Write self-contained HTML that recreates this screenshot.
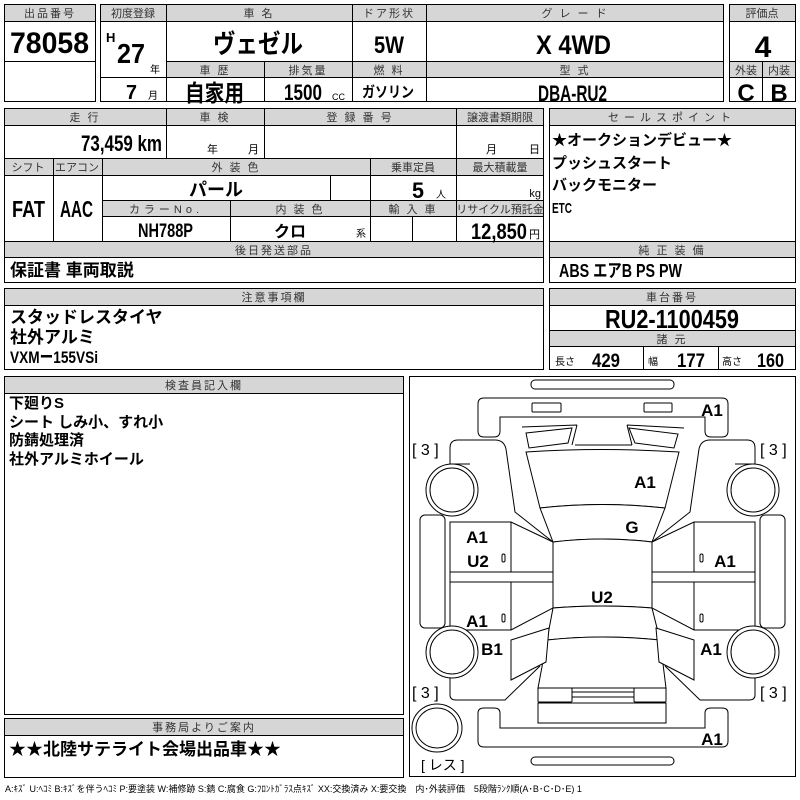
<!DOCTYPE html>
<html><head><meta charset="utf-8"><style>
html,body{margin:0;padding:0;background:#fff;}
svg{display:block;}
text{font-family:"Liberation Sans Narrow","Liberation Sans","Noto Sans CJK JP",sans-serif;fill:#000;}
.h{font-size:11px;fill:#333;text-anchor:middle;letter-spacing:2px;}
.b{font-weight:bold;}
.c{text-anchor:middle;}
.r{text-anchor:end;}
.g{fill:#d6d6d6;stroke:none;}
.ln{stroke:#000;stroke-width:1;fill:none;}
.car{stroke:#000;stroke-width:1;fill:#fff;}
.cl{font-size:17px;font-weight:bold;}
</style></head><body>
<svg width="800" height="800" viewBox="0 0 800 800" xmlns="http://www.w3.org/2000/svg">
<!-- Box A -->
<rect class="g" x="4" y="4" width="92" height="17"/>
<rect class="ln" x="4.5" y="4.5" width="91" height="97"/>
<line class="ln" x1="4" y1="21.5" x2="96" y2="21.5"/><line class="ln" x1="4" y1="61.5" x2="96" y2="61.5"/>
<text class="h" x="50" y="17">出品番号</text>
<text class="b" x="10" y="53" font-size="30" textLength="79" lengthAdjust="spacingAndGlyphs">78058</text>
<!-- Box B -->
<rect class="g" x="100" y="4" width="624" height="17"/>
<rect class="g" x="166" y="61" width="558" height="16"/>
<rect class="ln" x="100.5" y="4.5" width="623" height="97"/>
<line class="ln" x1="100" y1="21.5" x2="724" y2="21.5"/>
<line class="ln" x1="166" y1="61.5" x2="724" y2="61.5"/>
<line class="ln" x1="100" y1="77.5" x2="724" y2="77.5"/>
<line class="ln" x1="166.5" y1="4" x2="166.5" y2="102"/>
<line class="ln" x1="352.5" y1="4" x2="352.5" y2="102"/>
<line class="ln" x1="426.5" y1="4" x2="426.5" y2="102"/>
<line class="ln" x1="264.5" y1="61" x2="264.5" y2="102"/>
<text class="h" x="133" y="17" style="letter-spacing:0">初度登録</text>
<text class="h" x="259" y="17">車 名</text>
<text class="h" x="389" y="17">ドア形状</text>
<text class="h" x="575" y="17">グ レ ー ド</text>
<text class="b" x="106" y="42" font-size="13">H</text>
<text class="b" x="117" y="63" font-size="28" textLength="28" lengthAdjust="spacingAndGlyphs">27</text>
<text x="150" y="73" font-size="10">年</text>
<text class="b" x="126" y="99" font-size="20" textLength="11" lengthAdjust="spacingAndGlyphs">7</text>
<text x="148" y="99" font-size="10">月</text>
<text class="b" x="213" y="53" font-size="26" textLength="90" lengthAdjust="spacingAndGlyphs">ヴェゼル</text>
<text class="b" x="374" y="53" font-size="24" textLength="30" lengthAdjust="spacingAndGlyphs">5W</text>
<text class="b" x="536" y="54" font-size="27" textLength="75" lengthAdjust="spacingAndGlyphs">X 4WD</text>
<text class="h" x="215" y="74">車 歴</text>
<text class="h" x="308" y="74">排気量</text>
<text class="h" x="389" y="74">燃 料</text>
<text class="h" x="575" y="74">型 式</text>
<text class="b" x="185" y="101" font-size="23" textLength="59" lengthAdjust="spacingAndGlyphs">自家用</text>
<text class="b" x="284" y="100" font-size="22" textLength="38" lengthAdjust="spacingAndGlyphs">1500</text>
<text x="332" y="100" font-size="9">CC</text>
<text class="b" x="362" y="97" font-size="15" textLength="52" lengthAdjust="spacingAndGlyphs">ガソリン</text>
<text class="b" x="538" y="101" font-size="22" textLength="69" lengthAdjust="spacingAndGlyphs">DBA-RU2</text>
<!-- Box C -->
<rect class="g" x="729" y="4" width="67" height="17"/>
<rect class="g" x="729" y="61" width="67" height="16"/>
<rect class="ln" x="729.5" y="4.5" width="66" height="97"/>
<line class="ln" x1="729" y1="21.5" x2="796" y2="21.5"/>
<line class="ln" x1="729" y1="61.5" x2="796" y2="61.5"/>
<line class="ln" x1="729" y1="77.5" x2="796" y2="77.5"/>
<line class="ln" x1="762.5" y1="61" x2="762.5" y2="102"/>
<text class="h" x="762" y="17" style="letter-spacing:0">評価点</text>
<text class="b c" x="763" y="57" font-size="30">4</text>
<text class="h" x="746" y="74" style="letter-spacing:0">外装</text>
<text class="h" x="779" y="74" style="letter-spacing:0">内装</text>
<text class="b c" x="746" y="101" font-size="24">C</text>
<text class="b c" x="779" y="101" font-size="24">B</text>
<!-- Section 2 -->
<rect class="g" x="4" y="108" width="540" height="17"/>
<rect class="g" x="4" y="158" width="540" height="17"/>
<rect class="g" x="102" y="200" width="442" height="16"/>
<rect class="g" x="4" y="241" width="540" height="16"/>
<rect class="ln" x="4.5" y="108.5" width="539" height="174"/>
<line class="ln" x1="4" y1="125.5" x2="544" y2="125.5"/>
<line class="ln" x1="4" y1="158.5" x2="544" y2="158.5"/>
<line class="ln" x1="4" y1="175.5" x2="544" y2="175.5"/>
<line class="ln" x1="102" y1="200.5" x2="544" y2="200.5"/>
<line class="ln" x1="102" y1="216.5" x2="544" y2="216.5"/>
<line class="ln" x1="4" y1="241.5" x2="544" y2="241.5"/>
<line class="ln" x1="4" y1="257.5" x2="544" y2="257.5"/>
<line class="ln" x1="166.5" y1="108" x2="166.5" y2="158"/>
<line class="ln" x1="264.5" y1="108" x2="264.5" y2="158"/>
<line class="ln" x1="456.5" y1="108" x2="456.5" y2="241"/>
<line class="ln" x1="53.5" y1="158" x2="53.5" y2="241"/>
<line class="ln" x1="102.5" y1="158" x2="102.5" y2="241"/>
<line class="ln" x1="370.5" y1="158" x2="370.5" y2="241"/>
<line class="ln" x1="330.5" y1="175" x2="330.5" y2="200"/>
<line class="ln" x1="230.5" y1="200" x2="230.5" y2="241"/>
<line class="ln" x1="412.5" y1="216" x2="412.5" y2="241"/>
<text class="h" x="85" y="121">走 行</text>
<text class="h" x="215" y="121">車 検</text>
<text class="h" x="360" y="121">登 録 番 号</text>
<text class="h" x="500" y="121" style="letter-spacing:0">譲渡書類期限</text>
<text class="b" x="81" y="151" font-size="22" textLength="81" lengthAdjust="spacingAndGlyphs">73,459 km</text>
<text x="207" y="153" font-size="11">年</text><text x="248" y="153" font-size="11">月</text>
<text x="486" y="153" font-size="11">月</text><text x="529" y="153" font-size="11">日</text>
<text class="h" x="28" y="171" style="letter-spacing:0">シフト</text>
<text class="h" x="77" y="171" style="letter-spacing:0">エアコン</text>
<text class="h" x="236" y="171">外 装 色</text>
<text class="h" x="413" y="171" style="letter-spacing:0">乗車定員</text>
<text class="h" x="500" y="171" style="letter-spacing:0">最大積載量</text>
<text class="b" x="12" y="217" font-size="23" textLength="33" lengthAdjust="spacingAndGlyphs">FAT</text>
<text class="b" x="60" y="217" font-size="23" textLength="33" lengthAdjust="spacingAndGlyphs">AAC</text>
<text class="b c" x="216" y="196" font-size="18">パール</text>
<text class="b" x="412" y="198" font-size="22" textLength="12" lengthAdjust="spacingAndGlyphs">5</text>
<text x="436" y="198" font-size="10">人</text>
<text class="r" x="541" y="197" font-size="11">kg</text>
<text class="h" x="166" y="213" style="letter-spacing:4px">カラーNo.</text>
<text class="h" x="300" y="213">内 装 色</text>
<text class="h" x="413" y="213">輸 入 車</text>
<text class="h" x="500" y="213" style="letter-spacing:0">リサイクル預託金</text>
<text class="b" x="138" y="237" font-size="19" textLength="55" lengthAdjust="spacingAndGlyphs">NH788P</text>
<text class="b c" x="290" y="237" font-size="16">クロ</text>
<text x="356" y="237" font-size="10">系</text>
<text class="b" x="471" y="239" font-size="22" textLength="56" lengthAdjust="spacingAndGlyphs">12,850</text>
<text x="529" y="238" font-size="11">円</text>
<text class="h" x="274" y="254">後日発送部品</text>
<text class="b" x="10" y="276" font-size="17">保証書 車両取説</text>
<!-- Sale points -->
<rect class="g" x="549" y="108" width="247" height="17"/>
<rect class="g" x="549" y="241" width="247" height="16"/>
<rect class="ln" x="549.5" y="108.5" width="246" height="174"/>
<line class="ln" x1="549" y1="125.5" x2="796" y2="125.5"/>
<line class="ln" x1="549" y1="241.5" x2="796" y2="241.5"/>
<line class="ln" x1="549" y1="257.5" x2="796" y2="257.5"/>
<text class="h" x="672" y="121" style="letter-spacing:5px">セールスポイント</text>
<text class="b" x="552" y="145" font-size="15">★オークションデビュー★</text>
<text class="b" x="552" y="168" font-size="15">プッシュスタート</text>
<text class="b" x="552" y="190" font-size="15">バックモニター</text>
<text class="b" x="552" y="213" font-size="15" textLength="20" lengthAdjust="spacingAndGlyphs">ETC</text>
<text class="b" x="559" y="277" font-size="18" textLength="123" lengthAdjust="spacingAndGlyphs">ABS エアB PS PW</text>
<text class="h" x="672" y="254">純 正 装 備</text>
<!-- Section 3 -->
<rect class="g" x="4" y="288" width="540" height="17"/>
<rect class="ln" x="4.5" y="288.5" width="539" height="81"/>
<line class="ln" x1="4" y1="305.5" x2="544" y2="305.5"/>
<text class="h" x="274" y="301">注意事項欄</text>
<text class="b" x="10" y="323" font-size="17">スタッドレスタイヤ</text>
<text class="b" x="10" y="343" font-size="17">社外アルミ</text>
<text class="b" x="10" y="363" font-size="17" textLength="88" lengthAdjust="spacingAndGlyphs">VXMー155VSi</text>
<rect class="g" x="549" y="288" width="247" height="17"/>
<rect class="g" x="549" y="330" width="247" height="16"/>
<rect class="ln" x="549.5" y="288.5" width="246" height="81"/>
<line class="ln" x1="549" y1="305.5" x2="796" y2="305.5"/>
<line class="ln" x1="549" y1="330.5" x2="796" y2="330.5"/>
<line class="ln" x1="549" y1="346.5" x2="796" y2="346.5"/>
<line class="ln" x1="643.5" y1="346" x2="643.5" y2="370"/>
<line class="ln" x1="718.5" y1="346" x2="718.5" y2="370"/>
<text class="h" x="672" y="301">車台番号</text>
<text class="b" x="605" y="328" font-size="26" textLength="134" lengthAdjust="spacingAndGlyphs">RU2-1100459</text>
<text class="h" x="672" y="343">諸 元</text>
<text x="555" y="365" font-size="10">長さ</text><text class="b" x="592" y="367" font-size="19" textLength="28" lengthAdjust="spacingAndGlyphs">429</text>
<text x="648" y="365" font-size="10">幅</text><text class="b" x="677" y="367" font-size="19" textLength="28" lengthAdjust="spacingAndGlyphs">177</text>
<text x="722" y="365" font-size="10">高さ</text><text class="b" x="757" y="367" font-size="19" textLength="27" lengthAdjust="spacingAndGlyphs">160</text>
<!-- Section 4 -->
<rect class="g" x="4" y="376" width="400" height="17"/>
<rect class="ln" x="4.5" y="376.5" width="399" height="338"/>
<line class="ln" x1="4" y1="393.5" x2="404" y2="393.5"/>
<text class="h" x="204" y="389">検査員記入欄</text>
<text class="b" x="9" y="408" font-size="15">下廻りS</text>
<text class="b" x="9" y="427" font-size="15">シート しみ小、すれ小</text>
<text class="b" x="9" y="445" font-size="15">防錆処理済</text>
<text class="b" x="9" y="464" font-size="15">社外アルミホイール</text>
<rect class="g" x="4" y="718" width="400" height="17"/>
<rect class="ln" x="4.5" y="718.5" width="399" height="59"/>
<line class="ln" x1="4" y1="735.5" x2="404" y2="735.5"/>
<text class="h" x="204" y="731">事務局よりご案内</text>
<text class="b" x="9" y="755" font-size="17">★★北陸サテライト会場出品車★★</text>
<!-- Car diagram -->
<rect class="ln" x="409.5" y="376.5" width="386" height="400"/>
<g>
<rect class="car" x="531" y="380" width="143" height="9" rx="4"/>
<path class="car" d="M478,404 q0,-6 6,-6 H722 q6,0 6,6 V431 q0,6 -6,6 H711 q-6,0 -6,-6 V417 H500 V431 q0,6 -6,6 H484 q-6,0 -6,-6 Z"/>
<rect class="car" x="532" y="403" width="29" height="9" rx="1"/>
<rect class="car" x="644" y="403" width="28" height="9" rx="1"/>
<path class="ln" d="M522,427 L577,425 M627,425 L684,428 M575,445 L632,445 M577,425 L572,445 M627,425 L632,445"/>
<path class="car" d="M526,433 L572,428 L568,443 L529,448 Z"/>
<path class="car" d="M629,428 L678,434 L674,448 L635,443 Z"/>
<path class="car" d="M526,452 Q602,447 679,452 L665,508 Q602,501 540,508 Z"/>
<path class="car" d="M540,508 Q602,501 665,508 L652,542 Q602,536 553,542 Z"/>
<path class="car" d="M553,542 Q602,536 652,542 L652,608 Q602,604 553,608 Z"/>
<path class="car" d="M553,608 Q602,604 652,608 L660,640 Q602,634 547,640 Z"/>
<path class="car" d="M547,640 Q602,634 660,640 L666,688 H538 Z"/>
<rect class="car" x="538" y="688" width="34" height="14" rx="1"/>
<rect class="car" x="634" y="688" width="32" height="14" rx="1"/>
<path class="ln" d="M572,692 H634 M572,697 H634"/>
<rect class="car" x="538" y="703" width="128" height="20"/>
<path class="car" d="M478,713 q0,-5 6,-5 H494 q6,0 6,5 V728 H705 V713 q0,-5 6,-5 H722 q6,0 6,5 V741 q0,6 -6,6 H484 q-6,0 -6,-6 Z"/>
<rect class="car" x="531" y="757" width="143" height="8" rx="4"/>
<g id="side">
<path class="ln" d="M450,464 V448 q0,-8 8,-8 H495 q9,0 11,9 L515,512 L553,542"/>
<path class="ln" d="M450,464 H470"/>
<rect class="car" x="420" y="515" width="25" height="113" rx="5"/>
<path class="car" d="M450,522 H511 L553,542 V572 H450 Z"/>
<path class="ln" d="M511,522 V572"/>
<path class="car" d="M450,572 H553 V582 H450 Z"/>
<path class="car" d="M450,582 H553 V608 L511,630 H450 Z"/>
<path class="ln" d="M511,582 V630"/>
<path class="car" d="M511,640 L549,628 L546,662 L511,680 Z"/>
<path class="ln" d="M450,640 H465 M450,665 V695 q0,5 6,5 H505 L540,666"/>
<circle class="car" cx="452" cy="490" r="26"/><circle class="car" cx="452" cy="490" r="22"/>
<circle class="car" cx="452" cy="652" r="26"/><circle class="car" cx="452" cy="652" r="22"/>
<rect class="ln" x="502" y="554" width="3" height="8" rx="1.5"/>
<rect class="ln" x="502" y="614" width="3" height="8" rx="1.5"/>
</g>
<use href="#side" transform="translate(1205,0) scale(-1,1)"/>
<ellipse class="car" cx="437" cy="728" rx="25" ry="24"/><ellipse class="car" cx="437" cy="728" rx="21" ry="20"/>
</g>
<text x="412" y="455" font-size="16">[ 3 ]</text>
<text x="760" y="455" font-size="16">[ 3 ]</text>
<text x="412" y="698" font-size="16">[ 3 ]</text>
<text x="760" y="698" font-size="16">[ 3 ]</text>
<text x="421" y="770" font-size="14">[ レス ]</text>
<text class="cl c" x="712" y="416">A1</text>
<text class="cl c" x="645" y="488">A1</text>
<text class="cl c" x="632" y="533">G</text>
<text class="cl c" x="477" y="543">A1</text>
<text class="cl c" x="478" y="567">U2</text>
<text class="cl c" x="725" y="567">A1</text>
<text class="cl c" x="602" y="603">U2</text>
<text class="cl c" x="477" y="627">A1</text>
<text class="cl c" x="492" y="655">B1</text>
<text class="cl c" x="711" y="655">A1</text>
<text class="cl c" x="712" y="745">A1</text>
<text x="5" y="792" font-size="9" fill="#222">A:ｷｽﾞ U:ﾍｺﾐ B:ｷｽﾞを伴うﾍｺﾐ P:要塗装 W:補修跡 S:錆 C:腐食 G:ﾌﾛﾝﾄｶﾞﾗｽ点ｷｽﾞ XX:交換済み X:要交換　内･外装評価　5段階ﾗﾝｸ順(A･B･C･D･E) 1</text>
</svg>
</body></html>
